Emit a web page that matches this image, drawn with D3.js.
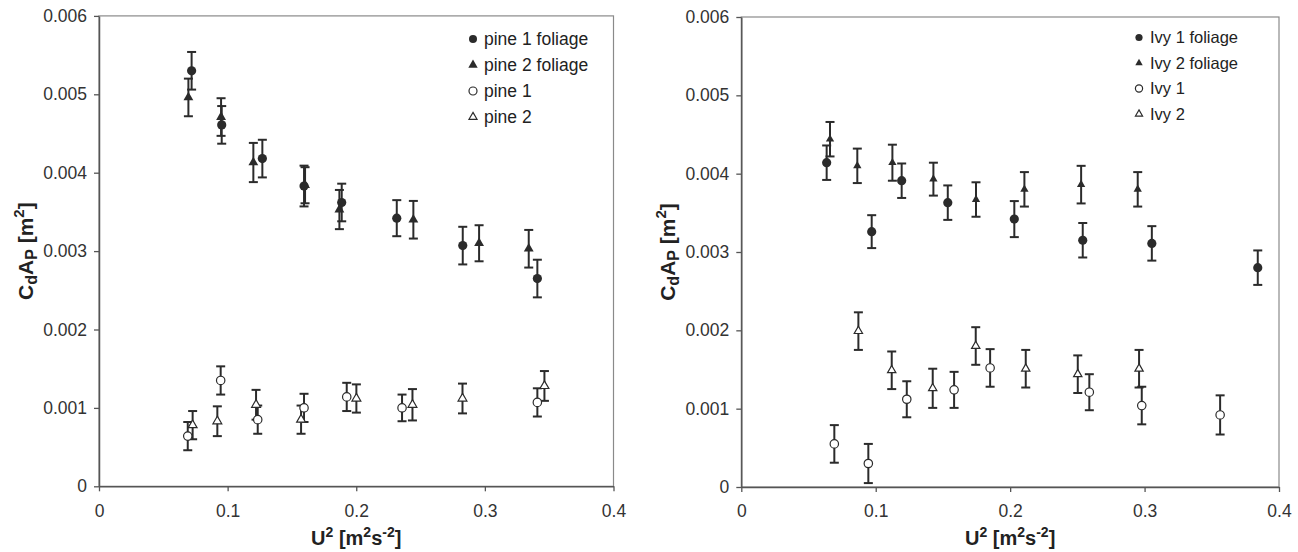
<!DOCTYPE html>
<html>
<head>
<meta charset="utf-8">
<script src="https://cdn.jsdelivr.net/npm/d3@7"></script>
<style>
  body { margin: 0; background: #fff; }
  svg { display: block; font-family: "Liberation Sans", Arial, sans-serif; }
</style>
</head>
<body>
<svg id="chart" width="1298" height="552"></svg>
<script>
// axis ticks
const xTicks = [0, 0.1, 0.2, 0.3, 0.4];
const yTicks = [0, 0.001, 0.002, 0.003, 0.004, 0.005, 0.006];

// left panel: pine
const pine1FoliageX = [0.072, 0.0954, 0.127, 0.1594, 0.1887, 0.2315, 0.2828, 0.3408];
const pine1FoliageY = [0.00530, 0.00461, 0.00418, 0.00383, 0.00362, 0.00342, 0.00307, 0.00265];
const pine1FoliageE = [0.00024, 0.00024, 0.00024, 0.00026, 0.00024, 0.00023, 0.00024, 0.00024];

const pine2FoliageX = [0.0695, 0.0949, 0.120, 0.1602, 0.1869, 0.2444, 0.2955, 0.3341];
const pine2FoliageY = [0.00496, 0.00471, 0.00413, 0.00384, 0.00353, 0.00340, 0.00310, 0.00303];
const pine2FoliageE = [0.00024, 0.00024, 0.00025, 0.00023, 0.00025, 0.00024, 0.00023, 0.00024];

const pine1X = [0.069, 0.0946, 0.1234, 0.1594, 0.1926, 0.2356, 0.3408];
const pine1Y = [0.00064, 0.00135, 0.00085, 0.00100, 0.00114, 0.00100, 0.00107];
const pine1E = [0.00018, 0.00018, 0.00018, 0.00018, 0.00018, 0.00017, 0.00018];

const pine2X = [0.0728, 0.092, 0.1221, 0.1571, 0.2001, 0.2437, 0.2826, 0.3463];
const pine2Y = [0.00078, 0.00083, 0.00104, 0.00085, 0.00112, 0.00104, 0.00112, 0.00128];
const pine2E = [0.00018, 0.00019, 0.00019, 0.00018, 0.00018, 0.00020, 0.00019, 0.00019];

// right panel: ivy
const ivy1FoliageX = [0.0635, 0.097, 0.1193, 0.1536, 0.2031, 0.254, 0.3054, 0.3842];
const ivy1FoliageY = [0.00414, 0.00326, 0.00391, 0.00363, 0.00342, 0.00315, 0.00311, 0.00280];
const ivy1FoliageE = [0.00022, 0.00021, 0.00022, 0.00022, 0.00023, 0.00022, 0.00022, 0.00022];

const ivy2FoliageX = [0.066, 0.0863, 0.1124, 0.1429, 0.1746, 0.2106, 0.2528, 0.2949];
const ivy2FoliageY = [0.00444, 0.00410, 0.00414, 0.00393, 0.00367, 0.00380, 0.00386, 0.00380];
const ivy2FoliageE = [0.00022, 0.00022, 0.00023, 0.00021, 0.00022, 0.00022, 0.00024, 0.00022];

const ivy1X = [0.0692, 0.0945, 0.1231, 0.1583, 0.1851, 0.2589, 0.2979, 0.3562];
const ivy1Y = [0.00055, 0.00030, 0.00112, 0.00124, 0.00152, 0.00121, 0.00104, 0.00092];
const ivy1E = [0.00024, 0.00025, 0.00023, 0.00023, 0.00024, 0.00023, 0.00024, 0.00025];

const ivy2X = [0.0871, 0.1119, 0.1424, 0.1744, 0.2116, 0.2503, 0.2959];
const ivy2Y = [0.00199, 0.00149, 0.00126, 0.00180, 0.00151, 0.00144, 0.00151];
const ivy2E = [0.00024, 0.00024, 0.00025, 0.00024, 0.00024, 0.00024, 0.00024];

const zip = (xs, ys, es) => xs.map((x, i) => ({ x, y: ys[i], e: es[i] }));

const panels = [
  {
    left: 99, right: 613.5, top: 15.9, bottom: 486.3,
    legendX: 473, legendY: 39, legendStep: 26, legendFont: 17.5, small: false,
    series: [
      { name: "pine 1 foliage", shape: "circle", filled: true, data: zip(pine1FoliageX, pine1FoliageY, pine1FoliageE) },
      { name: "pine 2 foliage", shape: "triangle", filled: true, data: zip(pine2FoliageX, pine2FoliageY, pine2FoliageE) },
      { name: "pine 1", shape: "circle", filled: false, data: zip(pine1X, pine1Y, pine1E) },
      { name: "pine 2", shape: "triangle", filled: false, data: zip(pine2X, pine2Y, pine2E) }
    ]
  },
  {
    left: 741.3, right: 1279, top: 17, bottom: 487,
    legendX: 1139, legendY: 37.5, legendStep: 25.5, legendFont: 16.5, small: true,
    series: [
      { name: "Ivy 1 foliage", shape: "circle", filled: true, data: zip(ivy1FoliageX, ivy1FoliageY, ivy1FoliageE) },
      { name: "Ivy 2 foliage", shape: "triangle", filled: true, data: zip(ivy2FoliageX, ivy2FoliageY, ivy2FoliageE) },
      { name: "Ivy 1", shape: "circle", filled: false, data: zip(ivy1X, ivy1Y, ivy1E) },
      { name: "Ivy 2", shape: "triangle", filled: false, data: zip(ivy2X, ivy2Y, ivy2E) }
    ]
  }
];

const svg = d3.select("#chart");
const ink = "#2b2b2b";

function marker(g, s, cx, cy, legend, small) {
  const fill = s.filled ? ink : "#fff";
  const sw = s.filled ? 0 : 1.2;
  if (s.shape === "circle") {
    let r = s.filled ? 4.6 : 4.2;
    if (legend) r = small ? 3.6 : 4;
    g.append("circle").attr("cx", cx).attr("cy", cy).attr("r", r)
      .attr("fill", fill).attr("stroke", ink).attr("stroke-width", sw);
  } else {
    let size = s.filled ? 42 : 34;
    if (small) size = 30;
    if (legend) size = small ? (s.filled ? 24 : 22) : (s.filled ? 38 : 28);
    g.append("path").attr("d", d3.symbol(d3.symbolTriangle, size)())
      .attr("transform", `translate(${cx},${cy})`)
      .attr("fill", fill).attr("stroke", ink).attr("stroke-width", sw)
      .attr("stroke-linejoin", "miter");
  }
}

panels.forEach(p => {
  const x = d3.scaleLinear().domain([0, 0.4]).range([p.left, p.right]);
  const y = d3.scaleLinear().domain([0, 0.006]).range([p.bottom, p.top]);

  // plot frame
  svg.append("rect")
    .attr("x", p.left).attr("y", p.top)
    .attr("width", p.right - p.left).attr("height", p.bottom - p.top)
    .attr("fill", "none").attr("stroke", "#8a8a8a").attr("stroke-width", 1.2);

  const ax = svg.append("g")
    .attr("transform", `translate(0,${p.bottom})`)
    .call(d3.axisBottom(x).tickValues(xTicks).tickSizeInner(5).tickSizeOuter(0).tickPadding(13)
      .tickFormat(d => d === 0 ? "0" : d3.format(".1f")(d)));
  const ay = svg.append("g")
    .attr("transform", `translate(${p.left},0)`)
    .call(d3.axisLeft(y).tickValues(yTicks).tickSizeInner(5).tickSizeOuter(0).tickPadding(7)
      .tickFormat(d => d === 0 ? "0" : d3.format(".3f")(d)));
  [ax, ay].forEach(a => {
    a.select(".domain").attr("stroke", "#555").attr("stroke-width", 1.5);
    a.selectAll(".tick line").attr("stroke", "#555").attr("stroke-width", 1.3);
    a.selectAll(".tick text").attr("fill", "#333").style("font-size", "17.5px")
      .style("font-family", "'Liberation Sans', Arial, sans-serif");
  });

  // error bars then markers
  const g = svg.append("g");
  p.series.forEach(s => {
    s.data.forEach(d => {
      const cx = x(d.x), y1 = y(d.y + d.e), y2 = y(d.y - d.e);
      g.append("line").attr("x1", cx).attr("x2", cx).attr("y1", y1).attr("y2", y2)
        .attr("stroke", ink).attr("stroke-width", 2);
      [y1, y2].forEach(yy => g.append("line")
        .attr("x1", cx - 4.5).attr("x2", cx + 4.5).attr("y1", yy).attr("y2", yy)
        .attr("stroke", ink).attr("stroke-width", 2));
    });
  });
  p.series.forEach(s => {
    s.data.forEach(d => marker(g, s, x(d.x), y(d.y), false, p.small));
  });

  // legend
  const lg = svg.append("g");
  p.series.forEach((s, i) => {
    const ly = p.legendY + i * p.legendStep;
    marker(lg, s, p.legendX, ly, true, p.small);
    lg.append("text").attr("x", p.legendX + 11).attr("y", ly)
      .attr("dy", "0.35em").attr("fill", "#222")
      .style("font-size", p.legendFont + "px").text(s.name);
  });

  // axis titles
  const cxMid = (p.left + p.right) / 2;
  const xt = svg.append("text").attr("x", cxMid).attr("y", 545)
    .attr("text-anchor", "middle").attr("fill", "#222")
    .style("font-size", "20px").style("font-weight", "bold");
  xt.append("tspan").text("U");
  xt.append("tspan").attr("dy", -8).style("font-size", "14px").text("2");
  xt.append("tspan").attr("dy", 8).text(" [m");
  xt.append("tspan").attr("dy", -8).style("font-size", "14px").text("2");
  xt.append("tspan").attr("dy", 8).text("s");
  xt.append("tspan").attr("dy", -8).style("font-size", "14px").text("-2");
  xt.append("tspan").attr("dy", 8).text("]");

  const cyMid = (p.top + p.bottom) / 2;
  const tx = p.left - 66;
  const yt = svg.append("text")
    .attr("transform", `translate(${tx},${cyMid}) rotate(-90)`)
    .attr("text-anchor", "middle").attr("fill", "#222")
    .style("font-size", "21px").style("font-weight", "bold");
  yt.append("tspan").text("C");
  yt.append("tspan").attr("dy", 4).style("font-size", "16px").text("d");
  yt.append("tspan").attr("dy", -4).text("A");
  yt.append("tspan").attr("dy", 4).style("font-size", "16px").text("P");
  yt.append("tspan").attr("dy", -4).text(" [m");
  yt.append("tspan").attr("dy", -9).style("font-size", "15px").text("2");
  yt.append("tspan").attr("dy", 9).text("]");
});
</script>
</body>
</html>
